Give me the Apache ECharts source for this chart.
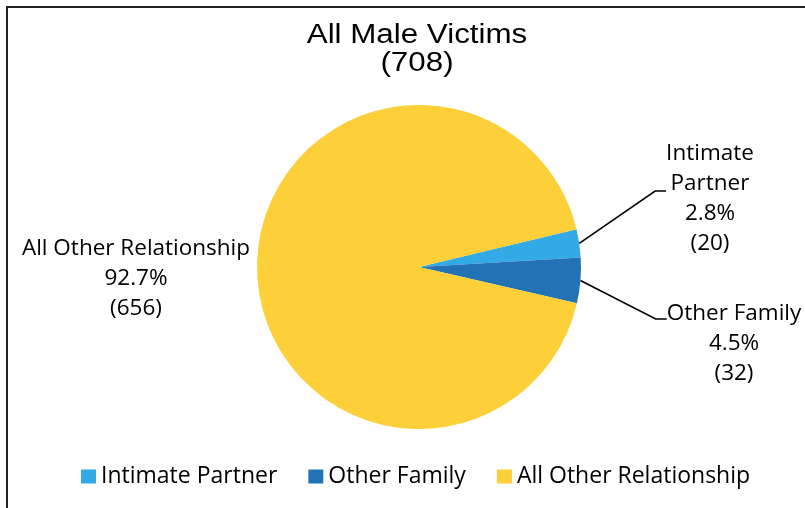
<!DOCTYPE html>
<html><head><meta charset="utf-8">
<script src="https://cdn.jsdelivr.net/npm/echarts@6/dist/echarts.min.js"></script>
<style>html,body{margin:0;padding:0;background:#fff}#c{width:805px;height:508px}</style>
</head><body><div id="c"></div>
<script>
const titleText = 'All Male Victims';
const total = 708;
const categories = ['Intimate Partner', 'Other Family', 'All Other Relationship'];
const labelNames = ['Intimate\nPartner', 'Other Family', 'All Other Relationship'];
const counts = [20, 32, 656];
const colors = ['#33A9E6', '#2372B6', '#FDCF38'];

// label placement (style, not data)
const labelPos = [
  {x: 710, y: 191, spacer: 16},
  {x: 734, y: 319, spacer: 50},
  {x: 136, y: 279, spacer: 0}
];
const FONT = 'Open Sans';

const chart = echarts.init(document.getElementById('c'), null, {renderer: 'canvas'});
chart.setOption({
  backgroundColor: '#fff',
  animation: false,
  legend: {
    top: 465, left: 81, padding: 0,
    itemWidth: 15, itemHeight: 14, itemGap: 31,
    icon: 'rect',
    textStyle: {fontFamily: FONT, fontSize: 23, color: '#000'},
    data: categories
  },
  graphic: [{
    type: 'text', x: 417, y: 21, scaleX: 1.16, silent: true,
    style: {
      text: titleText + '\n(' + total + ')',
      textAlign: 'center', textVerticalAlign: 'top',
      fontFamily: 'Liberation Sans', fontSize: 27, lineHeight: 28.5, fill: '#000'
    }
  }, {
    type: 'rect', silent: true, z: 100,
    shape: {x: 7, y: 7, width: 900, height: 600},
    style: {fill: 'none', stroke: '#222', lineWidth: 2}
  }],
  series: [{
    type: 'pie',
    center: [419, 267],
    radius: 162,
    startAngle: 13.5,
    clockwise: true,
    percentPrecision: 1,
    color: colors,
    label: {
      show: true, position: 'outside', overflow: 'none',
      fontFamily: FONT, fontSize: 22.5, color: '#000', lineHeight: 30,
      formatter: p => {
        const sp = labelPos[p.dataIndex].spacer;
        const body = labelNames[p.dataIndex] + '\n' + p.percent.toFixed(1) + '%\n(' + p.value + ')';
        return sp ? '{s' + p.dataIndex + '| }\n' + body : body;
      },
      rich: {
        s0: {fontSize: 2, lineHeight: labelPos[0].spacer},
        s1: {fontSize: 2, lineHeight: labelPos[1].spacer}
      }
    },
    labelLine: {show: true, length: 20, length2: 11, lineStyle: {color: '#000', width: 1.6}},
    labelLayout: p => ({x: labelPos[p.dataIndex].x, y: labelPos[p.dataIndex].y, align: 'center', verticalAlign: 'middle'}),
    data: categories.map((c, i) => ({
      name: c, value: counts[i],
      labelLine: i === 2 ? {show: false} : undefined
    }))
  }]
});
</script></body></html>
